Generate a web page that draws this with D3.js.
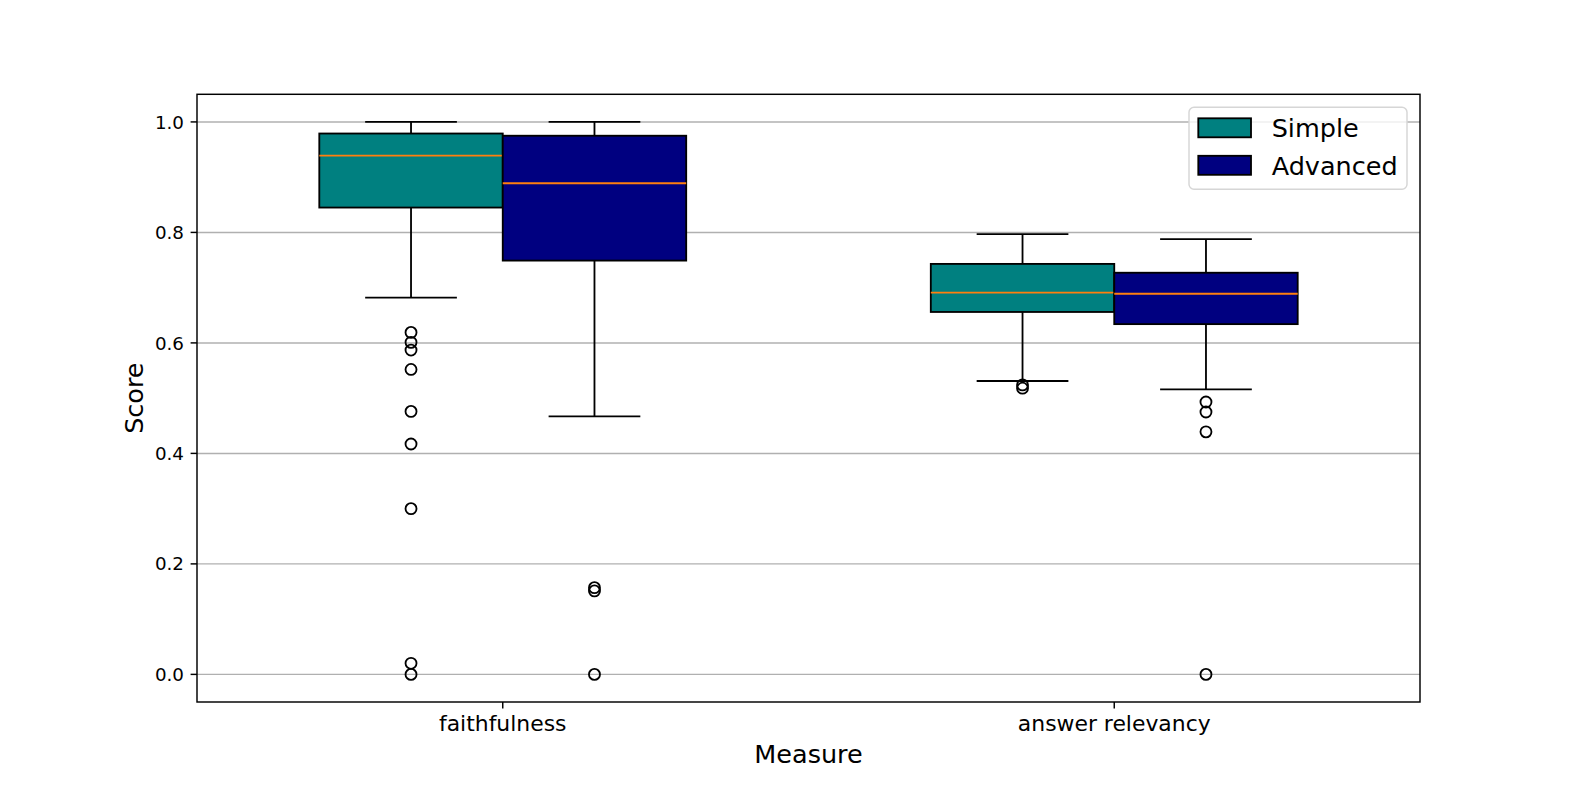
<!DOCTYPE html>
<html>
<head>
<meta charset="utf-8">
<script src="https://cdn.jsdelivr.net/npm/d3@7"></script>
<style>
    body { margin: 0; background: #fff; }
    svg { display: block; font-family: 'DejaVu Sans', sans-serif; }
</style>
</head>
<body>
<div id="chart"></div>
<script>
// measures on the x axis
var categories = ['faithfulness', 'answer relevancy'];
var seriesNames = ['Simple', 'Advanced'];
var seriesColors = ['#008080', '#000080'];

// box stats per category: [whisker low, q1, median, q3, whisker high]
var simpleStats = [
    [0.682, 0.845, 0.939, 0.979, 1.0],
    [0.531, 0.656, 0.691, 0.743, 0.797]
];
var advancedStats = [
    [0.467, 0.749, 0.889, 0.975, 1.0],
    [0.516, 0.634, 0.689, 0.727, 0.788]
];

// outliers (fliers) per category
var simpleOutliers = [
    [0.619, 0.601, 0.587, 0.552, 0.476, 0.417, 0.300, 0.020, 0.0],
    [0.524, 0.518]
];
var advancedOutliers = [
    [0.157, 0.151, 0.0],
    [0.493, 0.475, 0.439, 0.0]
];

var yTicks = [0.0, 0.2, 0.4, 0.6, 0.8, 1.0];

var W = 1578, H = 789;
var plot = { left: 197, right: 1420, top: 94.3, bottom: 702 };
var lw = 1.83;

var svg = d3.select('#chart').append('svg')
    .attr('width', W)
    .attr('height', H);

var x = d3.scaleLinear().domain([-0.5, 1.5]).range([plot.left, plot.right]);
var y = d3.scaleLinear().domain([-0.05, 1.05]).range([plot.bottom, plot.top]);

var boxWidth = 0.3;
var offsets = [-0.15, 0.15];

// grid
svg.append('g').attr('class', 'grid')
    .selectAll('line')
    .data(yTicks)
    .enter().append('line')
    .attr('x1', plot.left)
    .attr('x2', plot.right)
    .attr('y1', function (d) { return y(d); })
    .attr('y2', function (d) { return y(d); })
    .style('stroke', '#b0b0b0')
    .style('stroke-width', 1.46);

var series = [
    { name: seriesNames[0], color: seriesColors[0], stats: simpleStats, fliers: simpleOutliers },
    { name: seriesNames[1], color: seriesColors[1], stats: advancedStats, fliers: advancedOutliers }
];

series.forEach(function (s, si) {
    var g = svg.append('g').attr('class', 'series_' + si);
    categories.forEach(function (cat, ci) {
        var st = s.stats[ci];
        var cx = ci + offsets[si];
        var x0 = x(cx - boxWidth / 2), x1 = x(cx + boxWidth / 2);
        var c0 = x(cx - boxWidth / 4), c1 = x(cx + boxWidth / 4);

        // whiskers
        g.append('line')
            .attr('x1', x(cx)).attr('x2', x(cx))
            .attr('y1', y(st[0])).attr('y2', y(st[1]))
            .style('stroke', '#000').style('stroke-width', lw);
        g.append('line')
            .attr('x1', x(cx)).attr('x2', x(cx))
            .attr('y1', y(st[3])).attr('y2', y(st[4]))
            .style('stroke', '#000').style('stroke-width', lw);
        // caps
        [st[0], st[4]].forEach(function (v) {
            g.append('line')
                .attr('x1', c0).attr('x2', c1)
                .attr('y1', y(v)).attr('y2', y(v))
                .style('stroke', '#000').style('stroke-width', lw);
        });
        // box
        g.append('rect')
            .attr('x', x0)
            .attr('y', y(st[3]))
            .attr('width', x1 - x0)
            .attr('height', y(st[1]) - y(st[3]))
            .style('fill', s.color)
            .style('stroke', '#000')
            .style('stroke-width', lw);
        // median
        g.append('line')
            .attr('x1', x0).attr('x2', x1)
            .attr('y1', y(st[2])).attr('y2', y(st[2]))
            .style('stroke', '#ff7f0e').style('stroke-width', lw);
        // fliers
        g.selectAll('circle.flier_' + ci)
            .data(s.fliers[ci])
            .enter().append('circle')
            .attr('class', 'flier_' + ci)
            .attr('cx', x(cx))
            .attr('cy', function (d) { return y(d); })
            .attr('r', 5.5)
            .style('fill', 'none')
            .style('stroke', '#000')
            .style('stroke-width', lw);
    });
});

// spines
svg.append('rect')
    .attr('x', plot.left)
    .attr('y', plot.top)
    .attr('width', plot.right - plot.left)
    .attr('height', plot.bottom - plot.top)
    .style('fill', 'none')
    .style('stroke', '#000')
    .style('stroke-width', 1.46);

// y ticks
var yAxis = svg.append('g').attr('class', 'yaxis');
yTicks.forEach(function (t) {
    yAxis.append('line')
        .attr('x1', plot.left - 6.4).attr('x2', plot.left)
        .attr('y1', y(t)).attr('y2', y(t))
        .style('stroke', '#000').style('stroke-width', 1.46);
    yAxis.append('text')
        .attr('x', 184)
        .attr('y', y(t) + 6.6)
        .style('text-anchor', 'end')
        .style('font-size', '18.3px')
        .text(d3.format('.1f')(t));
});

// x ticks
var xAxis = svg.append('g').attr('class', 'xaxis');
categories.forEach(function (c, i) {
    xAxis.append('line')
        .attr('x1', x(i)).attr('x2', x(i))
        .attr('y1', plot.bottom).attr('y2', plot.bottom + 6.4)
        .style('stroke', '#000').style('stroke-width', 1.46);
    xAxis.append('text')
        .attr('x', x(i))
        .attr('y', 731)
        .style('text-anchor', 'middle')
        .style('font-size', '21.9px')
        .text(c);
});

// axis labels
svg.append('text')
    .attr('x', (plot.left + plot.right) / 2)
    .attr('y', 763.3)
    .style('text-anchor', 'middle')
    .style('font-size', '25.5px')
    .text('Measure');

svg.append('text')
    .attr('transform', 'rotate(-90 143.3 ' + ((plot.top + plot.bottom) / 2) + ')')
    .attr('x', 143.3)
    .attr('y', (plot.top + plot.bottom) / 2)
    .style('text-anchor', 'middle')
    .style('font-size', '25.5px')
    .text('Score');

// legend
var legend = svg.append('g').attr('class', 'legend');
legend.append('rect')
    .attr('x', 1189).attr('y', 107.3)
    .attr('width', 218).attr('height', 82)
    .attr('rx', 5).attr('ry', 5)
    .style('fill', '#fff').style('fill-opacity', 0.8)
    .style('stroke', '#d6d6d6').style('stroke-width', 1.46);

series.forEach(function (s, i) {
    var cy = 127.8 + i * 37.5;
    legend.append('rect')
        .attr('x', 1198.3).attr('y', cy - 9.5)
        .attr('width', 52.7).attr('height', 19)
        .style('fill', s.color)
        .style('stroke', '#000')
        .style('stroke-width', lw);
    legend.append('text')
        .attr('x', 1271.7)
        .attr('y', cy + 9.5)
        .style('font-size', '25.5px')
        .text(s.name);
});
</script>
</body>
</html>
